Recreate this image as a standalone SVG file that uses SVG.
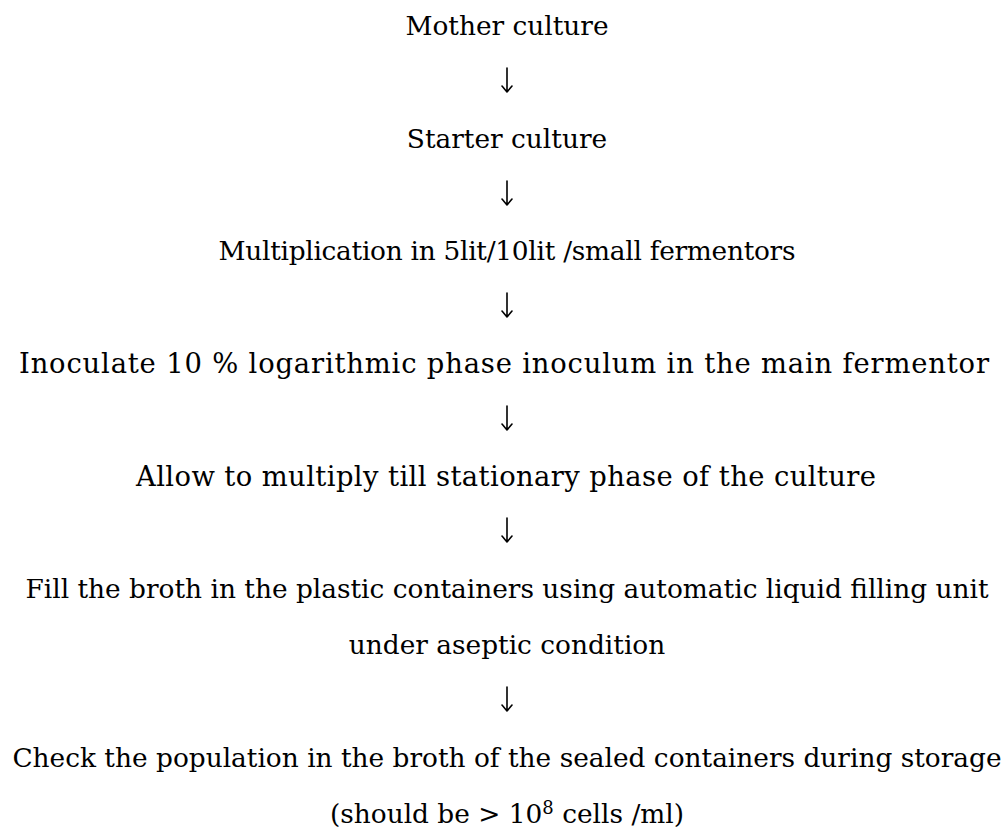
<svg xmlns="http://www.w3.org/2000/svg" width="1006" height="830" viewBox="0 0 1006 830">
<style>
.t{font-family:"DejaVu Serif","Liberation Serif",serif;font-size:26.4px;fill:#000;text-anchor:middle}
.w{font-size:27.4px}
.c{fill:none;stroke:#000;stroke-width:1.6;stroke-linecap:round;stroke-linejoin:round}
</style>
<defs>
<path id="arr" d="M0,-12 V12 M-5,6 L0,12 L5,6"/>
</defs>
<rect width="1006" height="830" fill="#fff"/>
<g id="n1"><text class="t" x="507" y="35">Mother culture</text></g>
<g id="n2"><text class="t" x="507" y="148">Starter culture</text></g>
<g id="n3"><text class="t" x="507" y="260" textLength="577">Multiplication in 5lit/10lit /small fermentors</text></g>
<g id="n4"><text class="t w" x="504" y="373" textLength="970">Inoculate 10 % logarithmic phase inoculum in the main fermentor</text></g>
<g id="n5"><text class="t w" x="506" y="486" textLength="740">Allow to multiply till stationary phase of the culture</text></g>
<g id="n6"><text class="t" x="507" y="598">Fill the broth in the plastic containers using automatic liquid filling unit</text><text class="t" x="507" y="654">under aseptic condition</text></g>
<g id="n7"><text class="t" x="507" y="767">Check the population in the broth of the sealed containers during storage</text><text class="t" x="507" y="823">(should be &gt; 10<tspan font-size="18" dy="-9">8</tspan><tspan dy="9"> cells /ml)</tspan></text></g>
<g id="connectors" class="c">
<use href="#arr" x="507" y="80"/>
<use href="#arr" x="507" y="193"/>
<use href="#arr" x="507" y="305"/>
<use href="#arr" x="507" y="418"/>
<use href="#arr" x="507" y="530"/>
<use href="#arr" x="507" y="699"/>
</g>
</svg>
